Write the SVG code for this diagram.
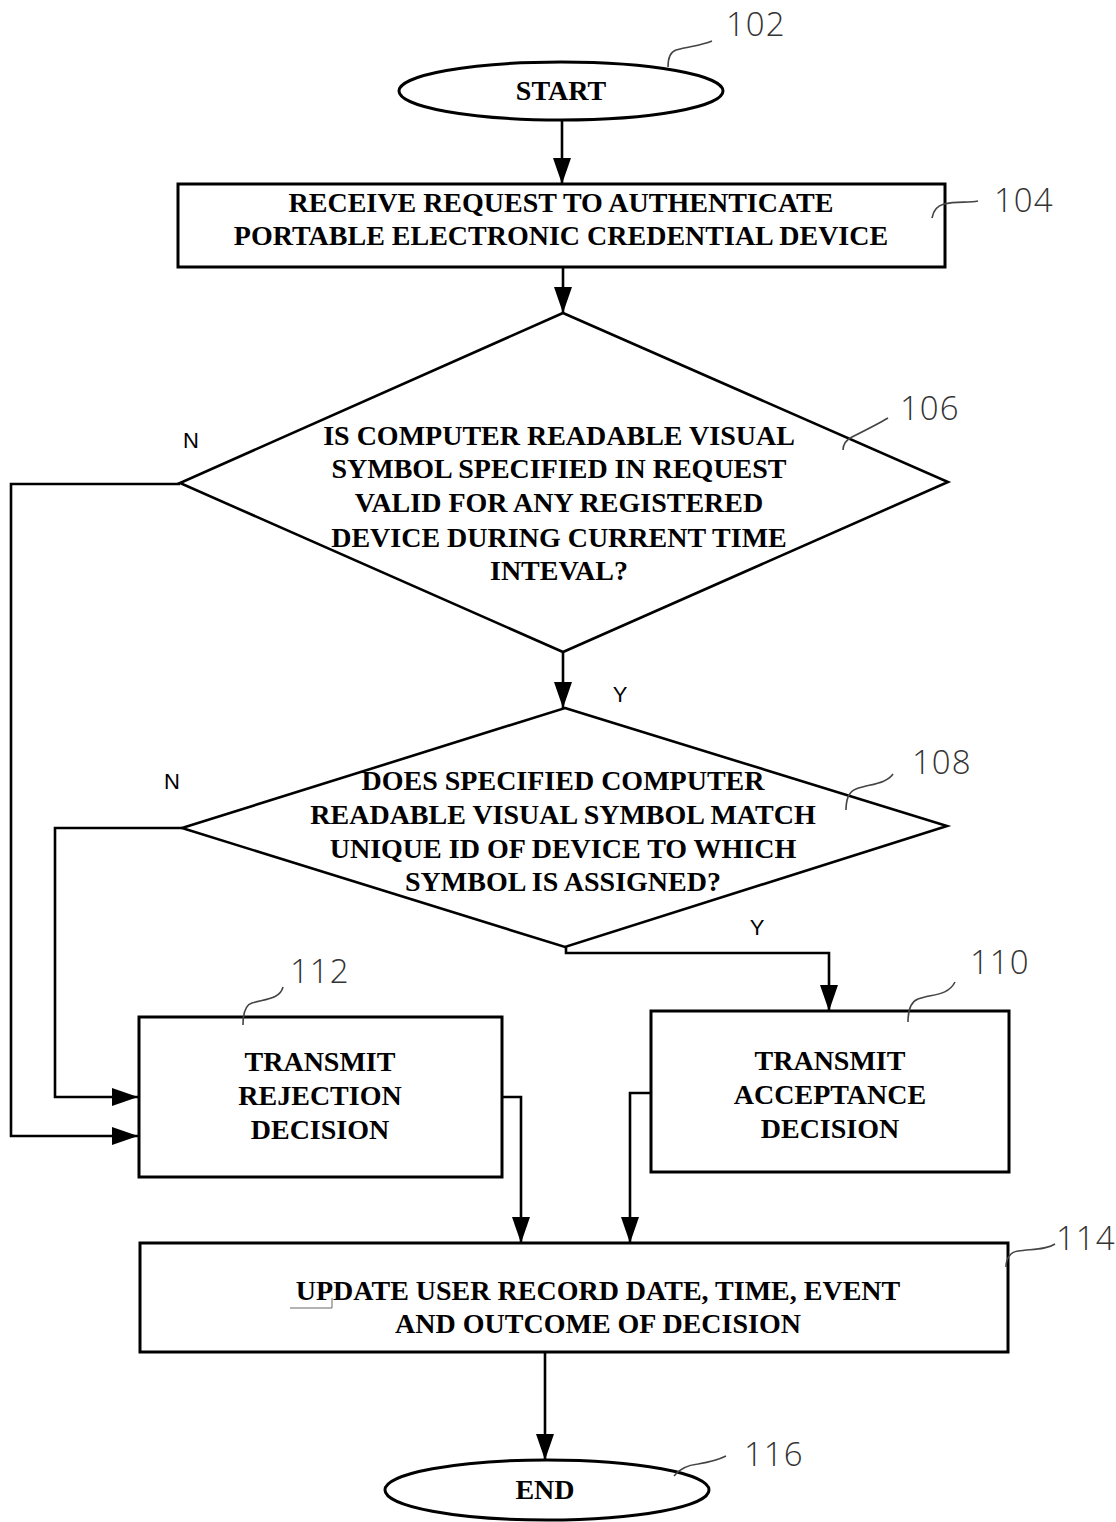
<svg xmlns="http://www.w3.org/2000/svg" width="1116" height="1522" viewBox="0 0 1116 1522">
<style>
.shape{fill:#fff;stroke:#000;stroke-width:3}
.dia{fill:#fff;stroke:#000;stroke-width:2.6}
.t{font-family:"Liberation Serif","Times New Roman",serif;font-weight:bold;font-size:28px;fill:#000;text-anchor:middle}
.yn{font-family:"Liberation Sans",Arial,sans-serif;font-size:22px;fill:#000;text-anchor:middle}
.ref{font-family:"Open Sans","DejaVu Sans",sans-serif;font-weight:300;font-size:33px;fill:#333;letter-spacing:1px}
.lead{fill:none;stroke:#444;stroke-width:1.6}
.c{fill:none;stroke:#000;stroke-width:2.6}
</style>
<defs>
<marker id="ah" viewBox="0 0 26 18" markerWidth="26" markerHeight="18" refX="26" refY="9" orient="auto" markerUnits="userSpaceOnUse">
<path d="M0,0 L26,9 L0,18 Z" fill="#000"/>
</marker>
</defs>

<g id="connectors">
<path class="c" d="M562,121 L562,184" marker-end="url(#ah)"/>
<path class="c" d="M563,267 L563,313" marker-end="url(#ah)"/>
<path class="c" d="M563,652 L563,708" marker-end="url(#ah)"/>
<path class="c" d="M180,484 L11,484 L11,1136 L138,1136" marker-end="url(#ah)"/>
<path class="c" d="M182,828 L55,828 L55,1097 L138,1097" marker-end="url(#ah)"/>
<path class="c" d="M566,947 L566,953 L829,953 L829,1011" marker-end="url(#ah)"/>
<path class="c" d="M502,1097 L521,1097 L521,1243" marker-end="url(#ah)"/>
<path class="c" d="M650,1093 L630,1093 L630,1243" marker-end="url(#ah)"/>
<path class="c" d="M545,1352 L545,1460" marker-end="url(#ah)"/>
<text class="yn" x="191" y="448">N</text>
<text class="yn" x="620" y="702">Y</text>
<text class="yn" x="172" y="789">N</text>
<text class="yn" x="757" y="935">Y</text>
</g>

<g id="n102">
<ellipse class="shape" cx="561" cy="91" rx="162" ry="29"/>
<text class="t" x="561" y="100">START</text>
<path class="lead" d="M668,67 C668,60 670,52 676,50 C690,46 700,46 712,41"/>
<text class="ref" x="726" y="36">102</text>
</g>

<g id="n104">
<rect class="shape" x="178" y="184" width="767" height="83"/>
<text class="t" x="561" y="212">RECEIVE REQUEST TO AUTHENTICATE</text>
<text class="t" x="561" y="245">PORTABLE ELECTRONIC CREDENTIAL DEVICE</text>
<path class="lead" d="M932,218 C933,212 936,206 944,204 C956,201 968,203 978,201"/>
<text class="ref" x="994" y="212">104</text>
</g>

<g id="n106">
<polygon class="dia" points="563,313 948,482 563,652 180,483"/>
<text class="t" x="559" y="445">IS COMPUTER READABLE VISUAL</text>
<text class="t" x="559" y="478">SYMBOL SPECIFIED IN REQUEST</text>
<text class="t" x="559" y="512">VALID FOR ANY REGISTERED</text>
<text class="t" x="559" y="547">DEVICE DURING CURRENT TIME</text>
<text class="t" x="559" y="580">INTEVAL?</text>
<path class="lead" d="M843,450 C843,444 846,440 852,437 C866,430 878,424 888,418"/>
<text class="ref" x="900" y="420">106</text>
</g>

<g id="n108">
<polygon class="dia" points="565,708 947,826 565,947 182,828"/>
<text class="t" x="563" y="790">DOES SPECIFIED COMPUTER</text>
<text class="t" x="563" y="824">READABLE VISUAL SYMBOL MATCH</text>
<text class="t" x="563" y="858">UNIQUE ID OF DEVICE TO WHICH</text>
<text class="t" x="563" y="891">SYMBOL IS ASSIGNED?</text>
<path class="lead" d="M846,810 C846,800 848,792 856,789 C870,784 886,784 893,774"/>
<text class="ref" x="912" y="774">108</text>
</g>

<g id="n112">
<rect class="shape" x="139" y="1017" width="363" height="160"/>
<text class="t" x="320" y="1071">TRANSMIT</text>
<text class="t" x="320" y="1105">REJECTION</text>
<text class="t" x="320" y="1139">DECISION</text>
<path class="lead" d="M243,1025 C243,1015 245,1005 252,1003 C266,999 280,999 283,987"/>
<text class="ref" x="290" y="983">112</text>
</g>

<g id="n110">
<rect class="shape" x="651" y="1011" width="358" height="161"/>
<text class="t" x="830" y="1070">TRANSMIT</text>
<text class="t" x="830" y="1104">ACCEPTANCE</text>
<text class="t" x="830" y="1138">DECISION</text>
<path class="lead" d="M908,1022 C908,1012 910,1002 918,999 C932,994 948,996 955,982"/>
<text class="ref" x="970" y="974">110</text>
</g>

<g id="n114">
<rect class="shape" x="140" y="1243" width="868" height="109"/>
<text class="t" x="598" y="1300">UPDATE USER RECORD DATE, TIME, EVENT</text>
<text class="t" x="598" y="1333">AND OUTCOME OF DECISION</text>
<path d="M290,1308 L332,1308 L332,1298" fill="none" stroke="#666" stroke-width="1"/>
<path class="lead" d="M1006,1267 C1006,1259 1010,1252 1018,1251 C1032,1249 1046,1250 1055,1244"/>
<text class="ref" x="1056" y="1250">114</text>
</g>

<g id="n116">
<ellipse class="shape" cx="547" cy="1490" rx="162" ry="30"/>
<text class="t" x="545" y="1499">END</text>
<path class="lead" d="M674,1476 C680,1468 688,1465 698,1464 C710,1462 718,1460 726,1456"/>
<text class="ref" x="744" y="1466">116</text>
</g>
</svg>
